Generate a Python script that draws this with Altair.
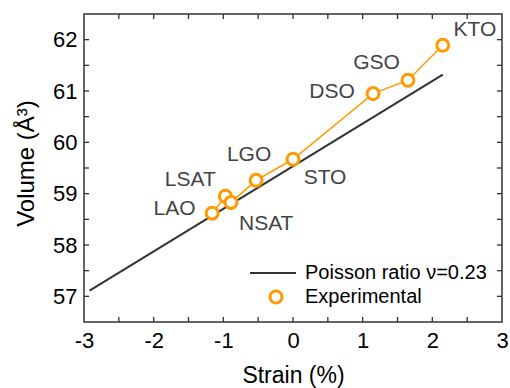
import altair as alt
import pandas as pd

# Poisson-ratio (nu = 0.23) model line
model_strain = [-2.92, 2.15]
model_volume = [57.11, 61.32]
model_name = "Poisson ratio \u03bd=0.23"

# Measured unit-cell volume vs. epitaxial strain for each substrate
substrates = ["LAO", "LSAT", "NSAT", "LGO", "STO", "DSO", "GSO", "KTO"]
strain = [-1.16, -0.97, -0.89, -0.53, 0.0, 1.15, 1.65, 2.15]
volume = [58.62, 58.95, 58.83, 59.26, 59.67, 60.95, 61.21, 61.89]

# Where each substrate name sits (data coordinates)
label_x = [-1.70, -1.475, -0.385, -0.63, 0.46, 0.56, 1.20, 2.61]
label_y = [58.70, 59.26, 58.40, 59.76, 59.31, 60.98, 61.54, 62.19]

# Axis ticks
major_x = [-3, -2, -1, 0, 1, 2, 3]
major_y = [57, 58, 59, 60, 61, 62]
minor_x = [-2.5, -2, -1.5, -1, -0.5, 0, 0.5, 1, 1.5, 2, 2.5]
minor_y = [57, 57.5, 58, 58.5, 59, 59.5, 60, 60.5, 61, 61.5, 62]

ORANGE = "#FF9900"
FRAME = "#333333"
FONT = "Liberation Sans"
W, H = 418, 308
TICK = 5

model_df = pd.DataFrame({"strain": model_strain, "volume": model_volume,
                         "model": [model_name] * len(model_strain)})
exp_df = pd.DataFrame({"strain": strain, "volume": volume, "substrate": substrates,
                       "kind": ["Experimental"] * len(strain)})
lab_df = pd.DataFrame({"lx": label_x, "ly": label_y, "substrate": substrates})
xt_df = pd.DataFrame({"t": minor_x})
yt_df = pd.DataFrame({"t": minor_y})

xs = alt.Scale(domain=[-3, 3], nice=False, zero=False)
ys = alt.Scale(domain=[56.5, 62.5], nice=False, zero=False)

# Plain hyphen for negative tick labels
hyphen = "datum.value < 0 ? '-' + abs(datum.value) : '' + datum.value"

# Black model line carries the labelled bottom/left axes
model_line = alt.Chart(model_df).mark_line(strokeWidth=2).encode(
    x=alt.X("strain:Q", scale=xs,
            axis=alt.Axis(orient="bottom", values=major_x, ticks=False, domain=False,
                          labelPadding=8, labelFlush=False, labelOverlap=False,
                          labelFontSize=22, labelColor="black", labelExpr=hyphen,
                          title="Strain (%)", titleFontSize=23, titleFontWeight="normal",
                          titleColor="black", titleX=W / 2, titleY=60,
                          titleBaseline="alphabetic", titleAlign="center")),
    y=alt.Y("volume:Q", scale=ys,
            axis=alt.Axis(orient="left", values=major_y, ticks=False, domain=False,
                          labelPadding=7, labelFlush=False, labelOverlap=False,
                          labelFontSize=22, labelColor="black", labelExpr=hyphen,
                          title="Volume (\u00c5\u00b3)", titleFontSize=24,
                          titleFontWeight="normal", titleColor="black",
                          titleAngle=-90, titleX=-51, titleY=149,
                          titleBaseline="alphabetic", titleAlign="center")),
    color=alt.Color("model:N", scale=alt.Scale(domain=[model_name], range=["#333333"]),
                    legend=alt.Legend(orient="none", legendX=165, legendY=235, title=None,
                                      symbolType="stroke", symbolSize=2116,
                                      symbolStrokeWidth=2, labelFontSize=20,
                                      labelFont=FONT, labelColor="black",
                                      labelOffset=8, labelLimit=400, padding=0)),
)

# Orange connecting line through the measured points
exp_line = alt.Chart(exp_df).mark_line(color=ORANGE, strokeWidth=1.5).encode(
    x=alt.X("strain:Q", scale=xs, axis=None),
    y=alt.Y("volume:Q", scale=ys, axis=None),
    order="strain:Q",
)

# Open circles for the measurements
exp_pts = alt.Chart(exp_df).mark_point(shape="circle", size=144, filled=False,
                                       fill="white", fillOpacity=1,
                                       strokeWidth=3, opacity=1).encode(
    x=alt.X("strain:Q", scale=xs, axis=None),
    y=alt.Y("volume:Q", scale=ys, axis=None),
    stroke=alt.Stroke("kind:N", scale=alt.Scale(domain=["Experimental"], range=[ORANGE]),
                      legend=alt.Legend(orient="none", legendX=182, legendY=273, title=None,
                                        symbolType="circle", symbolSize=144,
                                        symbolStrokeWidth=3, symbolFillColor="white",
                                        labelFontSize=20, labelFont=FONT,
                                        labelColor="black", labelOffset=19,
                                        labelLimit=400, padding=0)),
)

labels = alt.Chart(lab_df).mark_text(font=FONT, fontSize=21, color="#444444",
                                     baseline="middle", align="center").encode(
    x=alt.X("lx:Q", scale=xs, axis=None),
    y=alt.Y("ly:Q", scale=ys, axis=None),
    text="substrate:N",
)

# Inward-pointing ticks on all four sides of the frame
tick_style = dict(color=FRAME, strokeWidth=1.3)
ticks_bottom = alt.Chart(xt_df).mark_rule(**tick_style).encode(
    x=alt.X("t:Q", scale=xs, axis=None), y=alt.value(H), y2=alt.value(H - TICK))
ticks_top = alt.Chart(xt_df).mark_rule(**tick_style).encode(
    x=alt.X("t:Q", scale=xs, axis=None), y=alt.value(0), y2=alt.value(TICK))
ticks_left = alt.Chart(yt_df).mark_rule(**tick_style).encode(
    y=alt.Y("t:Q", scale=ys, axis=None), x=alt.value(0), x2=alt.value(TICK))
ticks_right = alt.Chart(yt_df).mark_rule(**tick_style).encode(
    y=alt.Y("t:Q", scale=ys, axis=None), x=alt.value(W), x2=alt.value(W - TICK))

chart = alt.layer(
    model_line, ticks_bottom, ticks_top, ticks_left, ticks_right,
    exp_line, exp_pts, labels,
).resolve_axis(x="independent", y="independent").resolve_legend(
    color="independent", stroke="independent"
).properties(
    width=W, height=H,
    autosize=alt.AutoSizeParams(type="none"),
    padding={"left": 84, "top": 14, "right": 8, "bottom": 66},
    background="white",
).configure(font=FONT).configure_view(stroke=FRAME, strokeWidth=1.5).configure_axis(
    labelFont=FONT, titleFont=FONT, grid=False
)

chart.save("out.html", embed_options={"renderer": "svg", "actions": False})
